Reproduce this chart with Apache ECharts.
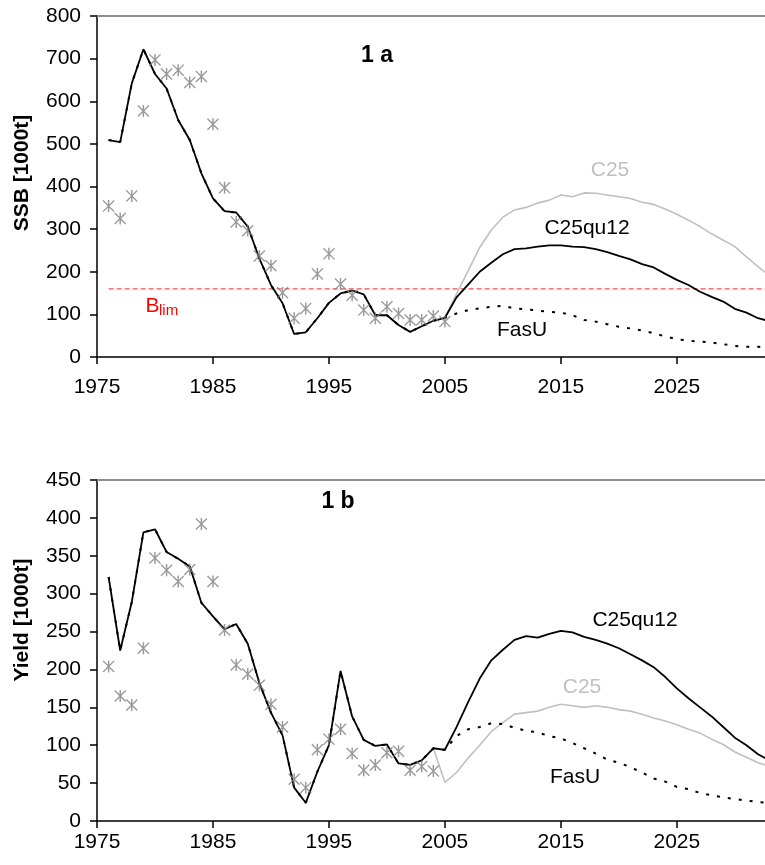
<!DOCTYPE html>
<html><head><meta charset="utf-8">
<script src="https://cdn.jsdelivr.net/npm/echarts@6/dist/echarts.min.js"></script>
<style>html,body{margin:0;padding:0;background:#fff}#c{width:765px;height:865px}</style>
</head><body><div id="c"></div>
<script>
// ---------- data ----------
const histYears = [1976,1977,1978,1979,1980,1981,1982,1983,1984,1985,1986,1987,1988,1989,1990,1991,1992,1993,1994,1995,1996,1997,1998,1999,2000,2001,2002,2003,2004,2005];
const projYears = [2005,2006,2007,2008,2009,2010,2011,2012,2013,2014,2015,2016,2017,2018,2019,2020,2021,2022,2023,2024,2025,2026,2027,2028,2029,2030,2031,2032,2033];
const xTicks = [1975,1985,1995,2005,2015,2025];
const ssbTicks = [0,100,200,300,400,500,600,700,800];
const yieldTicks = [0,50,100,150,200,250,300,350,400,450];

// 1a SSB [1000t]
const ssbModel = [509,504,642,722,664,630,556,509,431,372,342,339,306,231,169,126,54,58,91,127,149,156,147,98,98,75,59,72,85,92];
const ssbObs   = [354,325,378,577,697,664,673,644,658,546,397,317,296,237,214,151,91,114,195,242,171,145,110,91,118,102,87,87,96,83];
const ssbC25qu12 = [92,140,170,200,221,241,253,255,259,262,262,259,258,253,246,237,229,218,210,195,181,169,153,141,130,113,104,91,84];
const ssbC25     = [92,148,202,257,298,328,345,351,361,368,380,376,385,384,380,376,372,363,358,347,335,321,306,289,274,259,235,212,190];
const ssbFasU    = [92,102,110,114,118,120,114,112,109,106,104,98,87,83,77,71,67,62,56,48,42,38,36,34,30,26,24,24,22];
const bLim = 160;

// 1b Yield [1000t]
const yieldModel = [322,225,289,381,385,355,346,336,288,270,253,260,234,182,143,113,44,24,65,100,198,138,107,99,101,76,74,80,96,94];
const yieldObsYears = [1976,1977,1978,1979,1980,1981,1982,1983,1984,1985,1986,1987,1988,1989,1990,1991,1992,1993,1994,1995,1996,1997,1998,1999,2000,2001,2002,2003,2004];
const yieldObs = [204,165,153,228,347,331,316,332,392,316,252,206,194,179,154,124,55,44,94,108,121,89,67,74,90,92,67,72,66];
const yieldC25qu12 = [94,124,157,188,212,226,239,244,242,247,251,249,243,239,234,228,220,212,203,190,175,162,150,138,124,110,100,88,80];
const c25YieldYears = [2004,2005,2006,2007,2008,2009,2010,2011,2012,2013,2014,2015,2016,2017,2018,2019,2020,2021,2022,2023,2024,2025,2026,2027,2028,2029,2030,2031,2032,2033];
const yieldC25 = [96,51,64,83,100,118,130,141,143,145,150,154,152,150,152,150,147,145,141,136,132,127,121,116,108,101,91,84,77,72];
const yieldFasU = [104,112,121,124,129,128,123,119,117,112,109,103,96,89,81,77,71,64,56,52,45,42,37,34,31,29,27,25,24];

// ---------- helpers ----------
const zip = (xs, ys) => xs.map((x, i) => [x, ys[i]]);
const join = (a, b) => a.concat(b.slice(1));
const FONT = '"Liberation Sans", Arial, sans-serif';
const XMIN = 1975, XMAX = 2032.6;
const STAR = 'path://M44,0L56,0L56,100L44,100Z M8,0L100,92L92,100L0,8Z M100,8L8,100L0,92L92,0Z';

const chart = echarts.init(document.getElementById('c'), null, {renderer: 'canvas'});

function xAxisMain(gi, margin) {
  return {
    type: 'value', gridIndex: gi, min: XMIN, max: XMAX, interval: 10,
    axisLine: {show: true, onZero: false, lineStyle: {color: '#000', width: 1.5}},
    axisTick: {show: true, inside: false, length: 7, lineStyle: {color: '#000', width: 1.5}},
    axisLabel: {show: true, fontSize: 21, color: '#000', fontFamily: FONT, margin: margin,
      showMaxLabel: false,
      formatter: v => xTicks.indexOf(v) >= 0 ? String(v) : ''},
    splitLine: {show: false}
  };
}
function xAxisTop(gi) {
  return {
    type: 'value', gridIndex: gi, position: 'top', min: XMIN, max: XMAX,
    axisLine: {show: true, onZero: false, lineStyle: {color: '#8c8c8c', width: 2}},
    axisTick: {show: false}, axisLabel: {show: false}, splitLine: {show: false}
  };
}
function yAxis(gi, ticks) {
  return {
    type: 'value', gridIndex: gi, min: ticks[0], max: ticks[ticks.length - 1], interval: ticks[1] - ticks[0],
    axisLine: {show: true, onZero: false, lineStyle: {color: '#000', width: 1.5}},
    axisTick: {show: true, inside: false, length: 7, lineStyle: {color: '#000', width: 1.5}},
    axisLabel: {show: true, fontSize: 21, color: '#000', fontFamily: FONT, margin: 16},
    splitLine: {show: false}
  };
}
function lineSeries(xi, yi, data, color, width, type, z) {
  return {type: 'line', xAxisIndex: xi, yAxisIndex: yi, data: data, showSymbol: false, symbol: 'none',
    clip: true, lineStyle: {color: color, width: width, type: type}, z: z, silent: true, animation: false};
}
function starSeries(xi, yi, data) {
  return {type: 'scatter', xAxisIndex: xi, yAxisIndex: yi, data: data, symbol: STAR, symbolSize: 12,
    itemStyle: {color: '#808080'}, z: 10, silent: true, animation: false};
}
function txt(x, y, text, opts) {
  return Object.assign({type: 'text', x: x, y: y, silent: true, z: 100,
    style: Object.assign({text: text, fontSize: 21, fontFamily: FONT, fill: '#000', align: 'center', verticalAlign: 'middle'}, opts || {})});
}

const option = {
  animation: false,
  backgroundColor: '#fff',
  grid: [
    {left: 97, top: 16, width: 668.3, height: 341},
    {left: 97, top: 480, width: 668.3, height: 341}
  ],
  xAxis: [xAxisMain(0, 20), xAxisTop(0), xAxisMain(1, 11), xAxisTop(1)],
  yAxis: [yAxis(0, ssbTicks), yAxis(1, yieldTicks)],
  series: [
    // 1a
    lineSeries(0, 0, [[histYears[0], bLim], [XMAX, bLim]], '#ff4a4a', 1.2, [5, 3], 1),
    lineSeries(0, 0, zip(projYears, ssbC25), '#c0c0c0', 1.6, 'solid', 2),
    lineSeries(0, 0, join(zip(histYears, ssbModel), zip(projYears, ssbFasU)), '#000', 2, [3, 8], 3),
    lineSeries(0, 0, join(zip(histYears, ssbModel), zip(projYears, ssbC25qu12)), '#000', 1.8, 'solid', 4),
    starSeries(0, 0, zip(histYears, ssbObs)),
    // 1b
    lineSeries(2, 1, zip(c25YieldYears, yieldC25), '#c0c0c0', 1.6, 'solid', 2),
    lineSeries(2, 1, join(zip(histYears, yieldModel), zip(projYears, yieldFasU)), '#000', 2, [3, 8], 3),
    lineSeries(2, 1, join(zip(histYears, yieldModel), zip(projYears, yieldC25qu12)), '#000', 1.8, 'solid', 4),
    starSeries(2, 1, zip(yieldObsYears, yieldObs))
  ],
  graphic: [
    txt(22, 173, 'SSB [1000t]', {fontWeight: 'bold', fontSize: 21}),
    txt(22, 620, 'Yield [1000t]', {fontWeight: 'bold', fontSize: 21}),
    txt(377, 56, '1 a', {fontWeight: 'bold', fontSize: 23}),
    txt(338, 502, '1 b', {fontWeight: 'bold', fontSize: 23}),
    txt(610, 170, 'C25', {fill: '#c0c0c0'}),
    txt(587, 228, 'C25qu12'),
    txt(522, 330, 'FasU'),
    txt(145.5, 306, 'B', {fill: '#ff0000', align: 'left'}),
    txt(159, 311, 'lim', {fill: '#ff0000', align: 'left', fontSize: 15}),
    txt(635, 620, 'C25qu12'),
    txt(582, 687, 'C25', {fill: '#c0c0c0'}),
    txt(575, 777, 'FasU')
  ]
};
option.graphic[0].rotation = Math.PI / 2;
option.graphic[1].rotation = Math.PI / 2;
chart.setOption(option);
</script>
</body></html>
